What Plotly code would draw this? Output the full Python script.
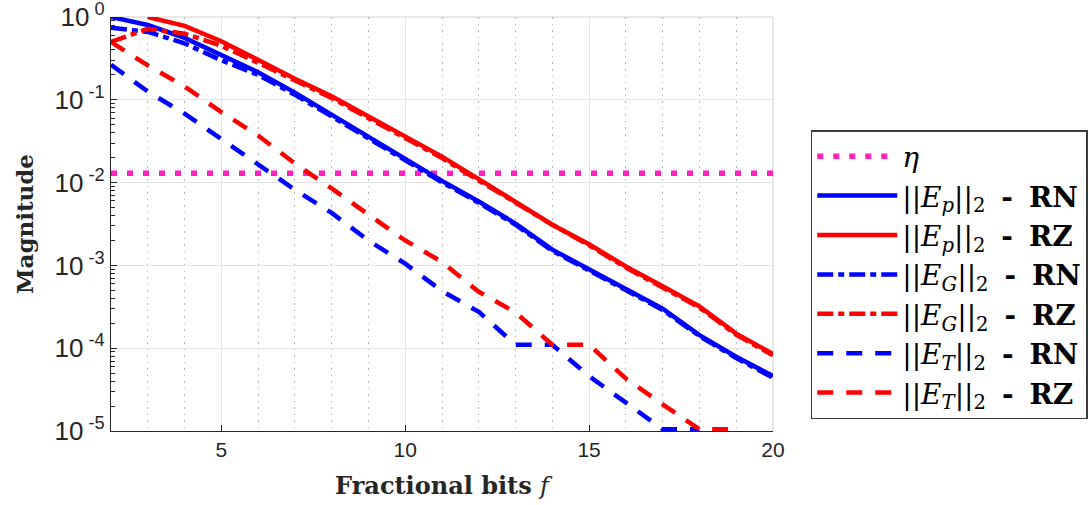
import plotly.graph_objects as go

# ---------------- data ----------------
frac_bits = list(range(2, 21))
eta_value = 0.013

ep_rn = [1.0, 0.80, 0.56, 0.35, 0.215, 0.122, 0.066, 0.036, 0.0197, 0.0105,
         0.0059, 0.0032, 0.00155, 0.0009, 0.00053, 0.0003, 0.000144, 7.9e-5, 4.6e-5]
ep_rz = [None, 1.0, 0.78, 0.51, 0.30, 0.18, 0.11, 0.063, 0.036, 0.0206,
         0.011, 0.0059, 0.0031, 0.0018, 0.00097, 0.00056, 0.00032, 0.00015, 8.5e-5]
eg_rn = [0.74, 0.66, 0.48, 0.30, 0.20, 0.115, 0.063, 0.034, 0.019, 0.0101,
         0.0057, 0.0031, 0.0015, 0.00087, 0.00051, 0.00029, 0.00014, 7.6e-5, 4.4e-5]
eg_rz = [0.5, 0.72, 0.63, 0.45, 0.28, 0.17, 0.105, 0.06, 0.034, 0.0198,
         0.0106, 0.0057, 0.0031, 0.00175, 0.00094, 0.00054, 0.00031, 0.000145, 8.2e-5]
et_rn = [0.265, 0.126, 0.068, 0.034, 0.017, 0.0082, 0.0043, 0.002, 0.00105, 0.00049,
         0.000275, 0.00011, 0.00011, 4.6e-5, 2.2e-5, 1.05e-5, 1.05e-5, None, None]
et_rz = [0.5, 0.26, 0.145, 0.071, 0.037, 0.017, 0.0085, 0.0042, 0.002, 0.0011,
         0.00048, 0.00027, 0.00011, 0.00011, 4.3e-5, 2.1e-5, 1.05e-5, 1.05e-5, None]

y_tick_vals = [1, 1e-1, 1e-2, 1e-3, 1e-4, 1e-5]
y_tick_text = ["10<sup> 0</sup>", "10<sup> -1</sup>", "10<sup> -2</sup>",
               "10<sup> -3</sup>", "10<sup> -4</sup>", "10<sup> -5</sup>"]
x_tick_vals = [5, 10, 15, 20]

BLUE = "#0000ff"
RED = "#ff0000"
MAGENTA = "#ff1fbf"
LW = 4.5
DASHDOT = "16px,5px,6px,5px"
DASHED = "16px,13px"
SP = "\u2005"


def label(sub, mode):
    return ("||<i>E</i><sub><i>" + sub + "</i></sub>||<sub>2</sub> " + SP +
            "<b>-</b> " + SP + "<b>" + mode + "</b>")


series = [
    (label("p", "RN"), ep_rn, BLUE, "solid"),
    (label("p", "RZ"), ep_rz, RED, "solid"),
    (label("G", "RN"), eg_rn, BLUE, DASHDOT),
    (label("G", "RZ"), eg_rz, RED, DASHDOT),
    (label("T", "RN"), et_rn, BLUE, DASHED),
    (label("T", "RZ"), et_rz, RED, DASHED),
]

fig = go.Figure()
fig.add_trace(go.Scatter(
    x=frac_bits, y=[eta_value] * len(frac_bits), mode="lines", name="<i>η</i>",
    legendgroup="eta",
    line=dict(color=MAGENTA, width=5.5, dash="6px,10px"), hoverinfo="skip"))
for i, (name, vals, color, dash) in enumerate(series):
    fig.add_trace(go.Scatter(
        x=frac_bits, y=vals, mode="lines", name=name, legendgroup=f"g{i}",
        line=dict(color=color, width=LW, dash=dash), connectgaps=False,
        hoverinfo="skip"))

minor_y = [m * 10 ** e for e in range(-5, 0) for m in range(2, 10)]

fig.update_layout(
    width=1089, height=505,
    margin=dict(l=111, r=316, t=17, b=74, autoexpand=False),
    paper_bgcolor="white", plot_bgcolor="white",
    showlegend=True,
    legend=dict(
        x=1.057, xanchor="left", y=0.727, yanchor="top",
        bordercolor="#3c3c3c", borderwidth=1.5, bgcolor="white",
        font=dict(family="DejaVu Serif", size=28, color="#000000"),
        itemwidth=80, traceorder="grouped", tracegroupgap=0,
    ),
    xaxis=dict(
        range=[2, 20], tickvals=x_tick_vals, ticks="inside", ticklen=6,
        tickcolor="#262626", showline=True, linecolor="#262626", linewidth=1.3,
        showgrid=True, gridcolor="#e3e3e3", gridwidth=1.3, zeroline=False,
        tickfont=dict(family="Liberation Sans", size=21, color="#262626"),
        minor=dict(dtick=1, tick0=0, showgrid=True, gridcolor="#b8b8b8",
                   griddash="1.5px,5px", gridwidth=1.3, ticks=""),
        title=dict(text="<b>Fractional bits </b><i>f</i>",
                   font=dict(family="DejaVu Serif", size=24, color="#262626"),
                   standoff=16),
    ),
    yaxis=dict(
        type="log", range=[-5, 0], tickvals=y_tick_vals, ticktext=y_tick_text,
        ticks="inside", ticklen=6, tickcolor="#262626",
        showline=True, linecolor="#262626", linewidth=1.3,
        showgrid=True, gridcolor="#e3e3e3", gridwidth=1.3, zeroline=False,
        ticklabeloverflow="allow",
        tickfont=dict(family="Liberation Sans", size=26, color="#262626"),
        minor=dict(tickvals=minor_y, ticks="inside", ticklen=4,
                   tickcolor="#262626", showgrid=False),
        title=dict(text="<b>Magnitude</b>",
                   font=dict(family="DejaVu Serif", size=23, color="#262626"),
                   standoff=14),
    ),
)

# light frame on the top and right sides of the plotting area
fig.add_shape(type="line", xref="paper", yref="paper", x0=0, x1=1, y0=1, y1=1,
              line=dict(color="#e0e0e0", width=1.5), layer="below")
fig.add_shape(type="line", xref="paper", yref="paper", x0=1, x1=1, y0=0, y1=1,
              line=dict(color="#e0e0e0", width=1.5), layer="below")

fig.write_html("out.html")
